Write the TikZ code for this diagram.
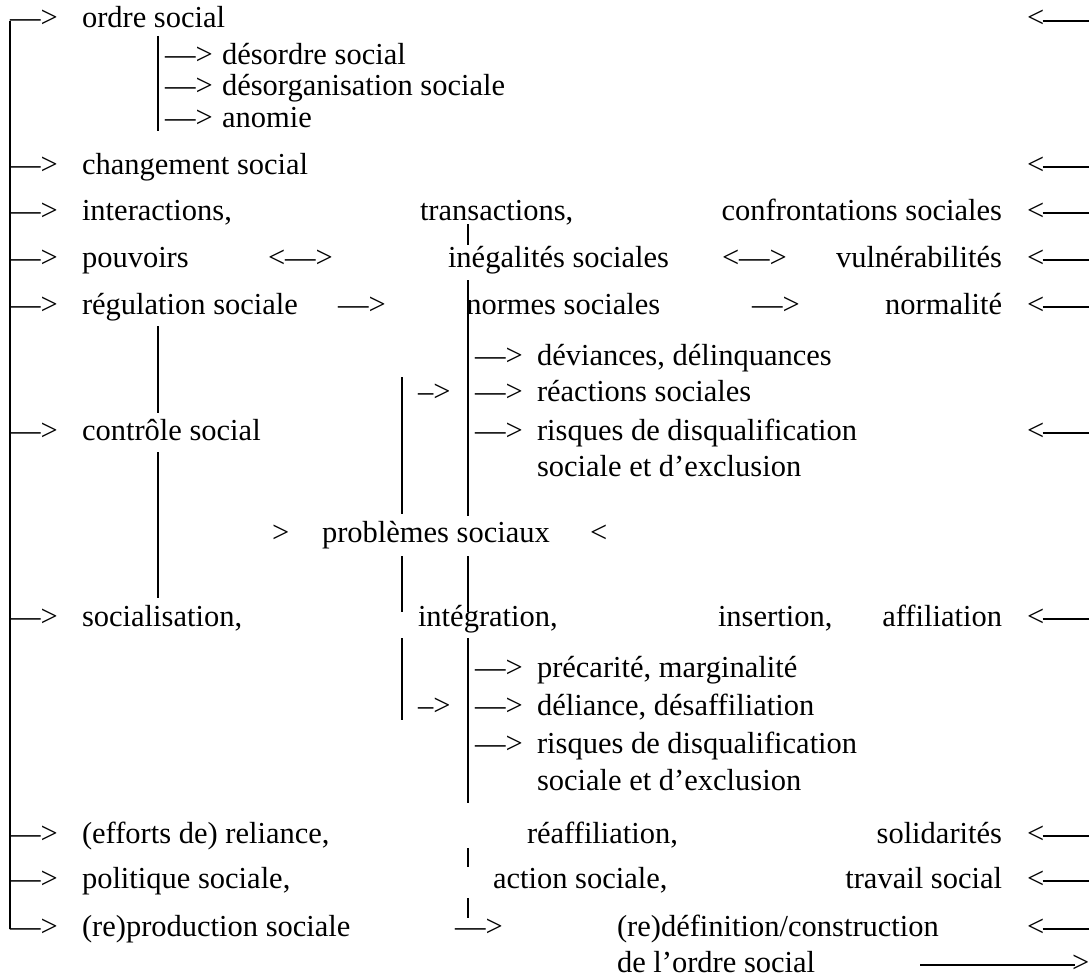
\documentclass[tikz,border=0pt]{standalone}
\usepackage{fontspec}
\setmainfont{Liberation Serif}
\usetikzlibrary{calc}
\tikzset{
  t/.style={anchor=base west, inner sep=0pt, outer sep=0pt},
  tr/.style={anchor=base east, inner sep=0pt, outer sep=0pt},
  ln/.style={line width=1.4pt, line cap=butt},
}
\newcommand\dashht{7}
\newcommand\rarrow[2]{%
  \node[t] (#1) at (1027,#2) {<};
  \coordinate (#1e) at ({1089},{#2-\dashht});
  \draw[ln] ($(#1.base east)+(-1.5,-\dashht)$) -- (#1e);}
\newcommand\larrow[2]{\node[t] (#1) at (10,#2) {—>};}
\newcommand\vseg[4]{%
  \coordinate (#1a) at (#2,#3); \coordinate (#1b) at (#2,#4);
  \draw[ln] (#1a) -- (#1b);}
\begin{document}
\begin{tikzpicture}[x=1pt,y=-1pt,font=\fontsize{30.5}{35}\selectfont]
\useasboundingbox (0,0) rectangle (1089,979);
\fill[white] (0,0) rectangle (1089,979);

% ---------- left spine ----------
\coordinate (Ltop) at (10,{28-\dashht});
\coordinate (Lbot) at (10,{936-\dashht});
\draw[ln] (Ltop) -- (Lbot);

% ---------- row: ordre social ----------
\larrow{la1}{28}
\node[t] (ordre) at (82,28) {ordre social};
\rarrow{ra1}{28}
\vseg{so}{158}{36}{131}
\node[t] (sa1) at (165,65) {—>};
\node[t] (desordre) at (222,65) {désordre social};
\node[t] (sa2) at (165,96) {—>};
\node[t] (desorg) at (222,96) {désorganisation sociale};
\node[t] (sa3) at (165,128) {—>};
\node[t] (anomie) at (222,128) {anomie};

% ---------- changement ----------
\larrow{la2}{174}
\node[t] (chang) at (82,174) {changement social};
\rarrow{ra2}{174}

% ---------- interactions ----------
\larrow{la3}{220}
\node[t] (inter) at (82,220) {interactions,};
\node[t] (trans) at (420,220) {transactions,};
\node[tr] (confr) at (1002,220) {confrontations sociales};
\rarrow{ra3}{220}

% ---------- pouvoirs ----------
\larrow{la4}{267}
\node[t] (pouv) at (82,267) {pouvoirs};
\node[t] (dbl1) at (268,267) {<—>};
\node[t] (ineg) at (448,267) {inégalités sociales};
\node[t] (dbl2) at (722,267) {<—>};
\node[tr] (vuln) at (1002,267) {vulnérabilités};
\rarrow{ra4}{267}

% ---------- régulation ----------
\larrow{la5}{314}
\node[t] (regul) at (82,314) {régulation sociale};
\node[t] (ar5) at (338,314) {—>};
\node[t] (normes) at (466.3,314) {normes sociales};
\node[t] (ar6) at (752,314) {—>};
\node[tr] (normal) at (1002,314) {normalité};
\rarrow{ra5}{314}

% ---------- central block 1 ----------
\node[t] (da1) at (475,365) {—>};
\node[t] (devi) at (537,365) {déviances, délinquances};
\node[t] (sh1) at (418,401) {–>};
\node[t] (da2) at (475,401) {—>};
\node[t] (react) at (537,401) {réactions sociales};
\larrow{la6}{440}
\node[t] (contr) at (82,440) {contrôle social};
\node[t] (da3) at (475,440) {—>};
\node[t] (risq1) at (537,440) {risques de disqualification};
\rarrow{ra6}{440}
\node[t] (excl1) at (537,476) {sociale et d’exclusion};

% ---------- problèmes sociaux ----------
\node[t] (gt1) at (272,542) {>};
\node[t] (probl) at (322,542) {problèmes sociaux};
\node[t] (lt1) at (590,542) {<};

% ---------- socialisation ----------
\larrow{la7}{626}
\node[t] (social) at (82,626) {socialisation,};
\node[t] (integ) at (418,626) {intégration,};
\node[t] (insert) at (718,626) {insertion,};
\node[tr] (affil) at (1002,626) {affiliation};
\rarrow{ra7}{626}

% ---------- central block 2 ----------
\node[t] (db1) at (475,677) {—>};
\node[t] (prec) at (537,677) {précarité, marginalité};
\node[t] (sh2) at (418,715) {–>};
\node[t] (db2) at (475,715) {—>};
\node[t] (delian) at (537,715) {déliance, désaffiliation};
\node[t] (db3) at (475,753) {—>};
\node[t] (risq2) at (537,753) {risques de disqualification};
\node[t] (excl2) at (537,790) {sociale et d’exclusion};

% ---------- efforts ----------
\larrow{la8}{843}
\node[t] (effor) at (82,843) {(efforts de) reliance,};
\node[t] (reaff) at (527,843) {réaffiliation,};
\node[tr] (solid) at (1002,843) {solidarités};
\rarrow{ra8}{843}

% ---------- politique ----------
\larrow{la9}{888}
\node[t] (polit) at (82,888) {politique sociale,};
\node[t] (action) at (493,888) {action sociale,};
\node[tr] (trav) at (1002,888) {travail social};
\rarrow{ra9}{888}

% ---------- (re)production ----------
\larrow{la10}{936}
\node[t] (repro) at (82,936) {(re)production sociale};
\node[t] (ar10) at (455,936) {—>};
\node[t] (redef) at (617,936) {(re)définition/construction};
\rarrow{ra10}{936}
\node[t] (ordre2) at (617,972) {de l’ordre social};
\node[t] (gtend) at (1072,972) {>};
\coordinate (longs) at (920,{972-\dashht});
\draw[ln] (longs) -- ($(gtend.base west)+(3,-\dashht)$);

% ---------- vertical segments ----------
\vseg{rg1}{158}{326}{413}
\vseg{rg2}{158}{452}{598}
\vseg{li1}{402}{377}{514}
\vseg{li2}{402}{556}{612}
\vseg{li3}{402}{638}{720}
\vseg{c1}{468}{224}{245}
\vseg{c2}{468}{280}{314}
\vseg{c3}{468}{314}{516}
\vseg{c4}{468}{556}{612}
\vseg{c5}{468}{638}{803}
\vseg{c6}{468}{848}{867}
\vseg{c7}{468}{898}{918}
\end{tikzpicture}
\end{document}
